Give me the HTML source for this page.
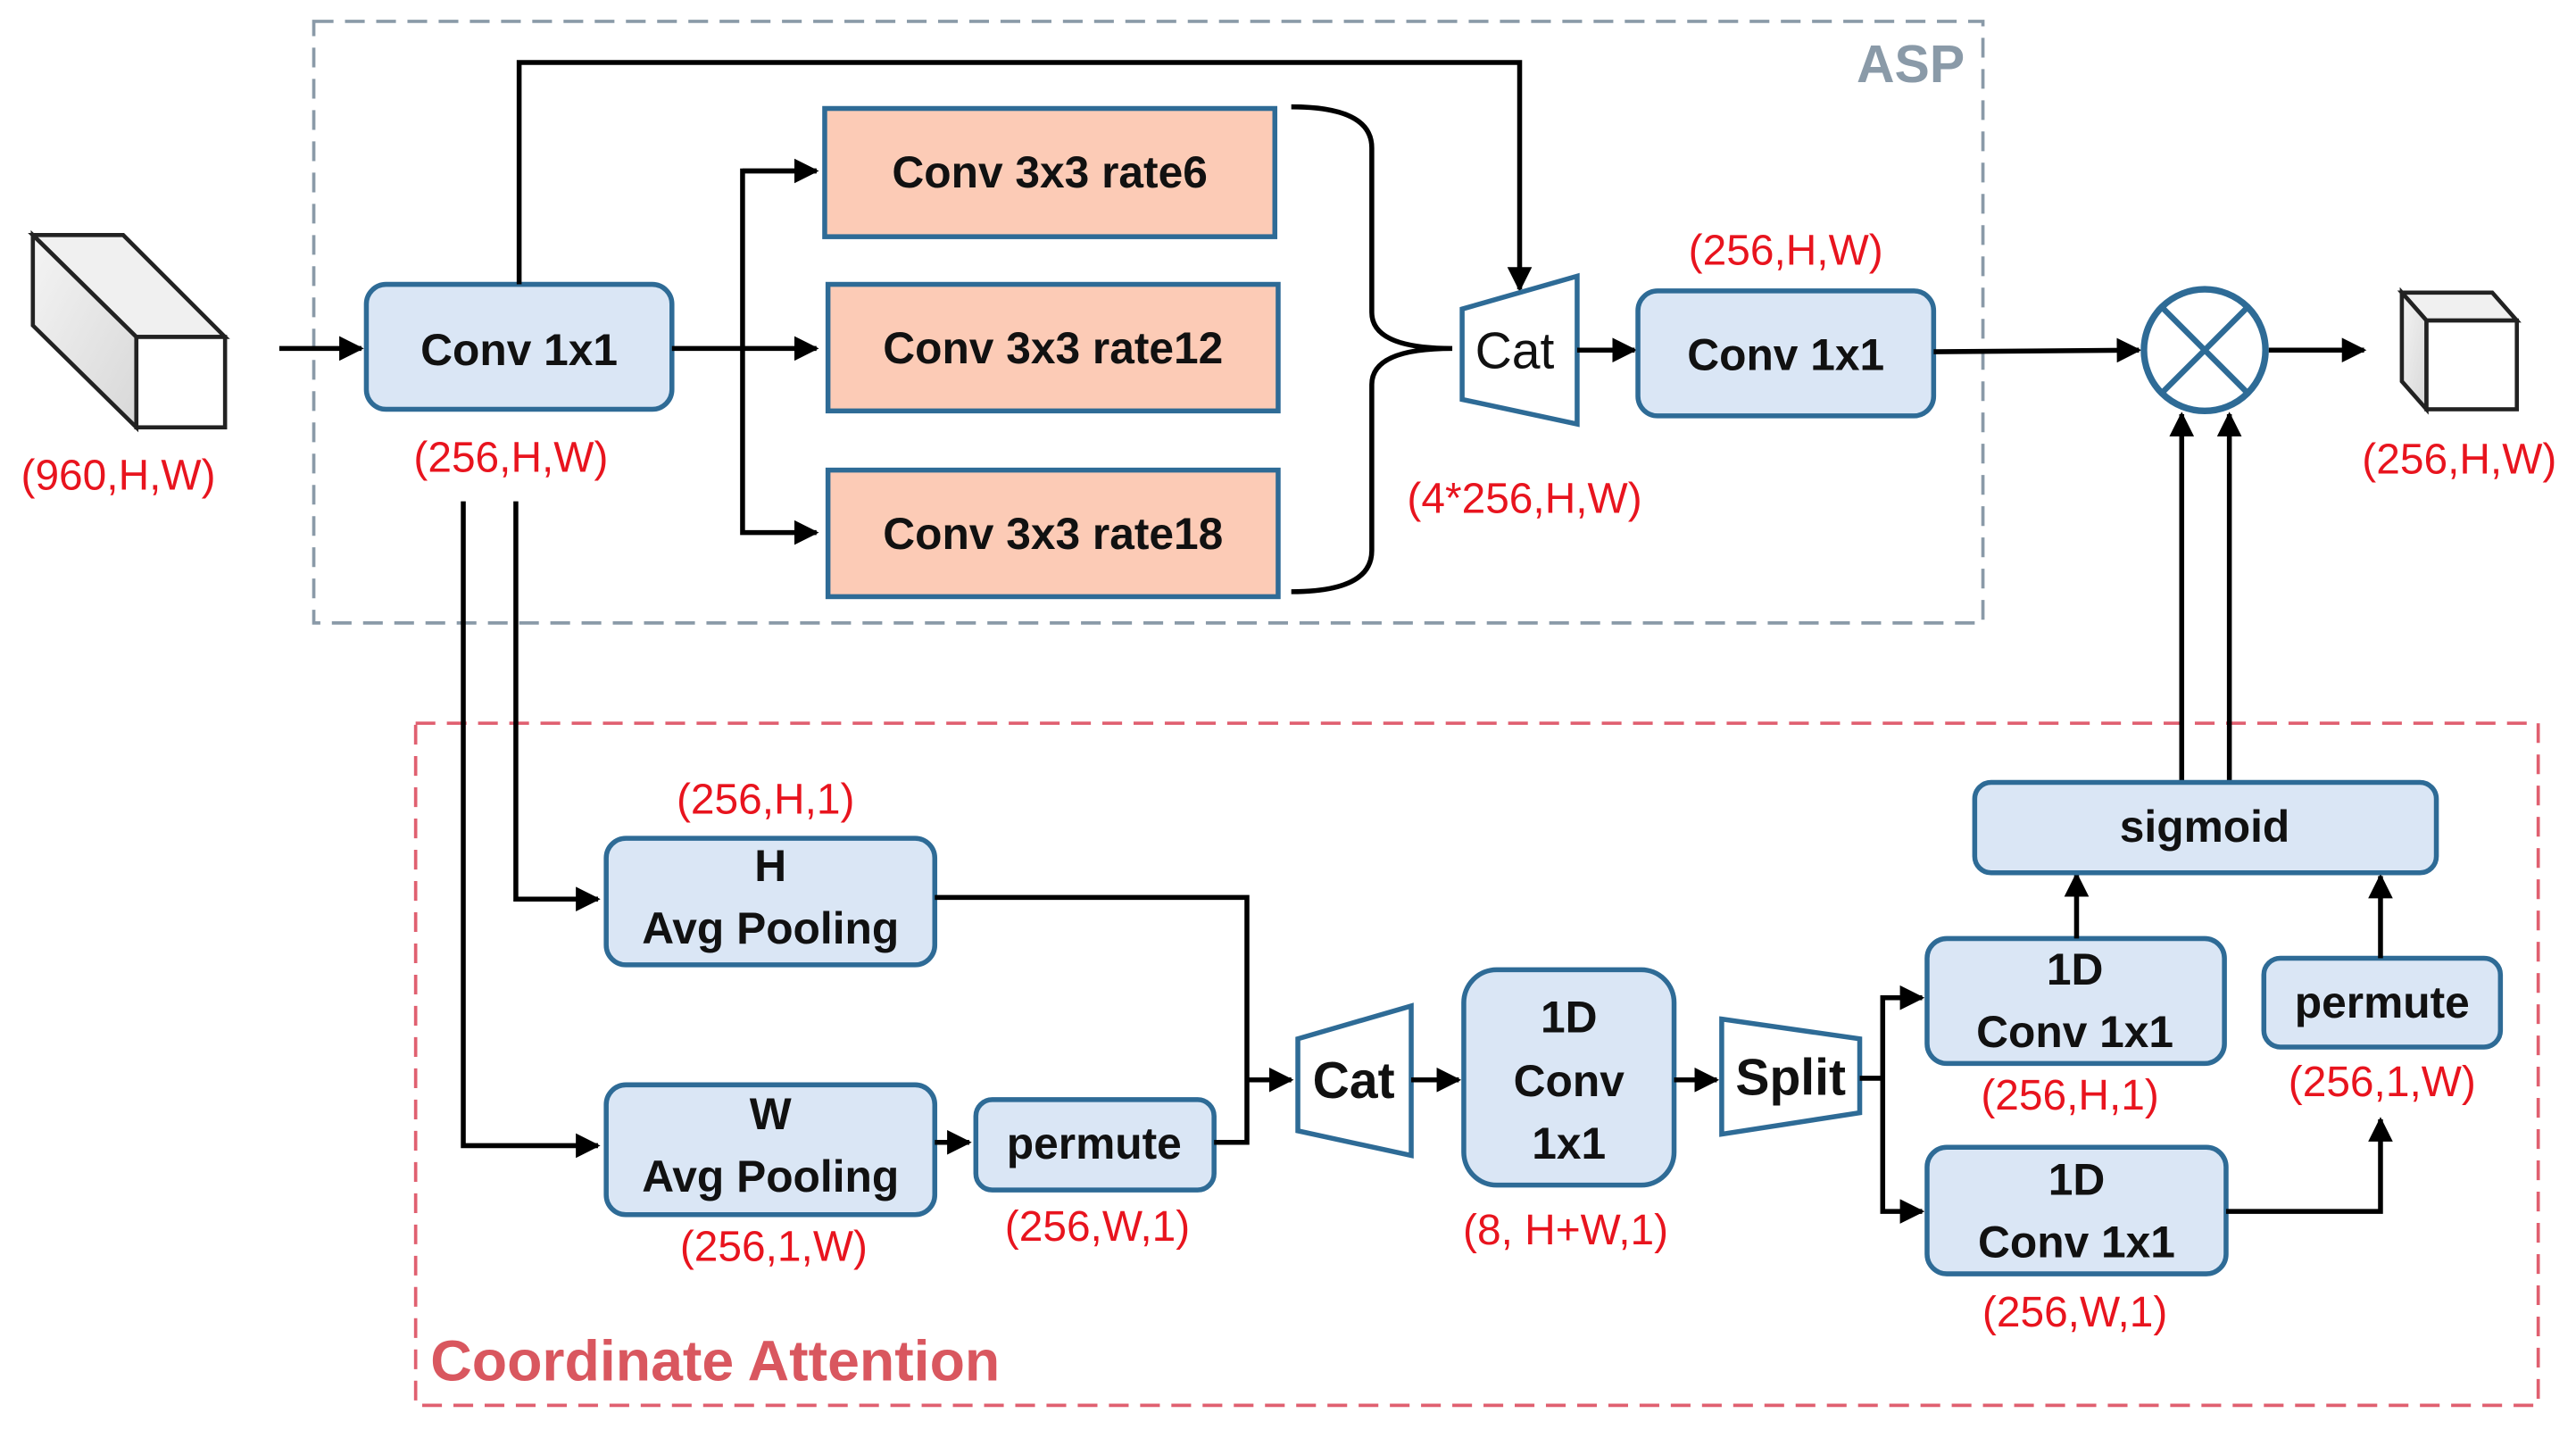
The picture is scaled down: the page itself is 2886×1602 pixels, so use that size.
<!DOCTYPE html>
<html><head><meta charset="utf-8"><style>
html,body{margin:0;padding:0;background:#fff;}
svg{display:block;}
text{font-family:"Liberation Sans","DejaVu Sans",sans-serif;}
.b{font-weight:bold;font-size:27px;fill:#111;text-anchor:middle;}
.r{font-size:26px;fill:#e8141e;text-anchor:middle;}
.bl{fill:#dae6f5;stroke:#2e6b96;stroke-width:3;}
.or{fill:#fccbb6;stroke:#2e6b96;stroke-width:3;}
.tr{fill:#fff;stroke:#2e6b96;stroke-width:3;}
.ln{fill:none;stroke:#000;stroke-width:3;}
</style></head><body>
<svg width="2886" height="1602" viewBox="0 0 1568 870" preserveAspectRatio="none" xmlns="http://www.w3.org/2000/svg">
<defs>
<marker id="a" viewBox="0 0 10 10" refX="9" refY="5" markerWidth="5" markerHeight="5" orient="auto" markerUnits="strokeWidth">
<path d="M0,0 L10,5 L0,10 z" fill="#000"/></marker>
<linearGradient id="g" x1="0" y1="0" x2="1" y2="1"><stop offset="0" stop-color="#f4f4f4"/><stop offset="1" stop-color="#d8d8d8"/></linearGradient>
</defs>
<rect x="191" y="13" width="1016" height="366" fill="none" stroke="#8a9aa8" stroke-width="2" stroke-dasharray="12,7"/>
<text x="1163" y="50" style="font-weight:bold;font-size:32px;fill:#8a9aa8;text-anchor:middle">ASP</text>
<rect x="253" y="440" width="1292" height="415" fill="none" stroke="#e06070" stroke-width="2" stroke-dasharray="12,7"/>
<text x="262" y="840" style="font-weight:bold;font-size:35px;fill:#d9575f">Coordinate Attention</text>

<polygon points="20,143 75,143 137,205 83,205" fill="#f0f0f0" stroke="#222" stroke-width="2.5"/>
<polygon points="20,143 83,205 83,260 20,198" fill="url(#g)" stroke="#222" stroke-width="2.5"/>
<rect x="83" y="205" width="54" height="55" fill="#fff" stroke="#222" stroke-width="2.5"/>
<text class="r" x="72" y="298">(960,H,W)</text>

<line class="ln" x1="170" y1="212" x2="220" y2="212" marker-end="url(#a)"/>
<rect class="bl" x="223" y="173" width="186" height="76" rx="12"/>
<text class="b" x="316" y="222">Conv 1x1</text>
<text class="r" x="311" y="287">(256,H,W)</text>

<polyline class="ln" points="316,173 316,38 925,38 925,176" marker-end="url(#a)"/>
<line class="ln" x1="409" y1="212" x2="497" y2="212" marker-end="url(#a)"/>
<polyline class="ln" points="497,104 452,104 452,324 497,324" marker-end="url(#a)"/>
<line class="ln" x1="452" y1="104" x2="497" y2="104" marker-end="url(#a)"/>

<rect class="or" x="502" y="66" width="274" height="78"/>
<text class="b" x="639" y="114">Conv 3x3 rate6</text>
<rect class="or" x="504" y="173" width="274" height="77"/>
<text class="b" x="641" y="221">Conv 3x3 rate12</text>
<rect class="or" x="504" y="286" width="274" height="77"/>
<text class="b" x="641" y="334">Conv 3x3 rate18</text>

<path class="ln" d="M786,65 Q835,65 835,90 L835,190 Q835,212 884,212 Q835,212 835,234 L835,335 Q835,360 786,360" stroke-width="2.5"/>

<polygon class="tr" points="890,188 960,168 960,258 890,243"/>
<text x="922" y="224" style="font-size:31px;fill:#111;text-anchor:middle">Cat</text>
<line class="ln" x1="960" y1="213" x2="995" y2="213" marker-end="url(#a)"/>
<rect class="bl" x="997" y="177" width="180" height="76" rx="12"/>
<text class="b" x="1087" y="225">Conv 1x1</text>
<text class="r" x="1087" y="161">(256,H,W)</text>
<text class="r" x="928" y="312">(4*256,H,W)</text>
<line class="ln" x1="1177" y1="214" x2="1302" y2="213" marker-end="url(#a)"/>

<circle cx="1342" cy="213" r="37" fill="#fff" stroke="#2e6b96" stroke-width="4"/>
<line x1="1316" y1="187" x2="1368" y2="239" stroke="#2e6b96" stroke-width="3.5"/>
<line x1="1368" y1="187" x2="1316" y2="239" stroke="#2e6b96" stroke-width="3.5"/>
<line class="ln" x1="1381" y1="213" x2="1439" y2="213" marker-end="url(#a)"/>

<polygon points="1462,178 1517,178 1532,195 1477,195" fill="#f0f0f0" stroke="#222" stroke-width="2.5"/>
<polygon points="1462,178 1477,195 1477,249 1462,232" fill="url(#g)" stroke="#222" stroke-width="2.5"/>
<rect x="1477" y="195" width="55" height="54" fill="#fff" stroke="#222" stroke-width="2.5"/>
<text class="r" x="1497" y="288">(256,H,W)</text>

<line class="ln" x1="1328" y1="476" x2="1328" y2="252" marker-end="url(#a)"/>
<line class="ln" x1="1357" y1="476" x2="1357" y2="252" marker-end="url(#a)"/>

<polyline class="ln" points="314,305 314,547 364,547" marker-end="url(#a)"/>
<polyline class="ln" points="282,305 282,697 364,697" marker-end="url(#a)"/>
<rect class="bl" x="369" y="510" width="200" height="77" rx="12"/>
<text class="b" x="469" y="536">H</text>
<text class="b" x="469" y="574">Avg Pooling</text>
<text class="r" x="466" y="495">(256,H,1)</text>
<rect class="bl" x="369" y="660" width="200" height="79" rx="12"/>
<text class="b" x="469" y="687">W</text>
<text class="b" x="469" y="725">Avg Pooling</text>
<text class="r" x="471" y="767">(256,1,W)</text>
<line class="ln" x1="569" y1="695" x2="590" y2="695" marker-end="url(#a)"/>
<rect class="bl" x="594" y="669" width="145" height="55" rx="10"/>
<text class="b" x="666" y="705">permute</text>
<text class="r" x="668" y="755">(256,W,1)</text>
<polyline class="ln" points="569,546 759,546 759,695 739,695"/>
<line class="ln" x1="759" y1="657" x2="786" y2="657" marker-end="url(#a)"/>
<polygon class="tr" points="790,632 859,612 859,703 790,688"/>
<text x="824" y="668" style="font-weight:bold;font-size:31px;fill:#111;text-anchor:middle">Cat</text>
<line class="ln" x1="859" y1="657" x2="888" y2="657" marker-end="url(#a)"/>
<rect class="bl" x="891" y="590" width="128" height="131" rx="20"/>
<text class="b" x="955" y="628">1D</text>
<text class="b" x="955" y="667">Conv</text>
<text class="b" x="955" y="705">1x1</text>
<text class="r" x="953" y="757">(8, H+W,1)</text>
<line class="ln" x1="1019" y1="657" x2="1045" y2="657" marker-end="url(#a)"/>
<polygon class="tr" points="1048,620 1132,632 1132,677 1048,690"/>
<text x="1090" y="666" style="font-weight:bold;font-size:31px;fill:#111;text-anchor:middle">Split</text>
<polyline class="ln" points="1132,656 1146,656"/>
<polyline class="ln" points="1170,607 1146,607 1146,737 1170,737" marker-end="url(#a)"/>
<line class="ln" x1="1146" y1="607" x2="1170" y2="607" marker-end="url(#a)"/>
<rect class="bl" x="1173" y="571" width="181" height="76" rx="12"/>
<text class="b" x="1263" y="599">1D</text>
<text class="b" x="1263" y="637">Conv 1x1</text>
<text class="r" x="1260" y="675">(256,H,1)</text>
<rect class="bl" x="1173" y="698" width="182" height="77" rx="12"/>
<text class="b" x="1264" y="727">1D</text>
<text class="b" x="1264" y="765">Conv 1x1</text>
<text class="r" x="1263" y="807">(256,W,1)</text>
<polyline class="ln" points="1355,737 1449,737 1449,681" marker-end="url(#a)"/>
<rect class="bl" x="1378" y="583" width="144" height="54" rx="10"/>
<text class="b" x="1450" y="619">permute</text>
<text class="r" x="1450" y="667">(256,1,W)</text>
<line class="ln" x1="1449" y1="583" x2="1449" y2="533" marker-end="url(#a)"/>
<line class="ln" x1="1264" y1="571" x2="1264" y2="532" marker-end="url(#a)"/>
<rect class="bl" x="1202" y="476" width="281" height="55" rx="10"/>
<text class="b" x="1342" y="512">sigmoid</text>
</svg>
</body></html>
